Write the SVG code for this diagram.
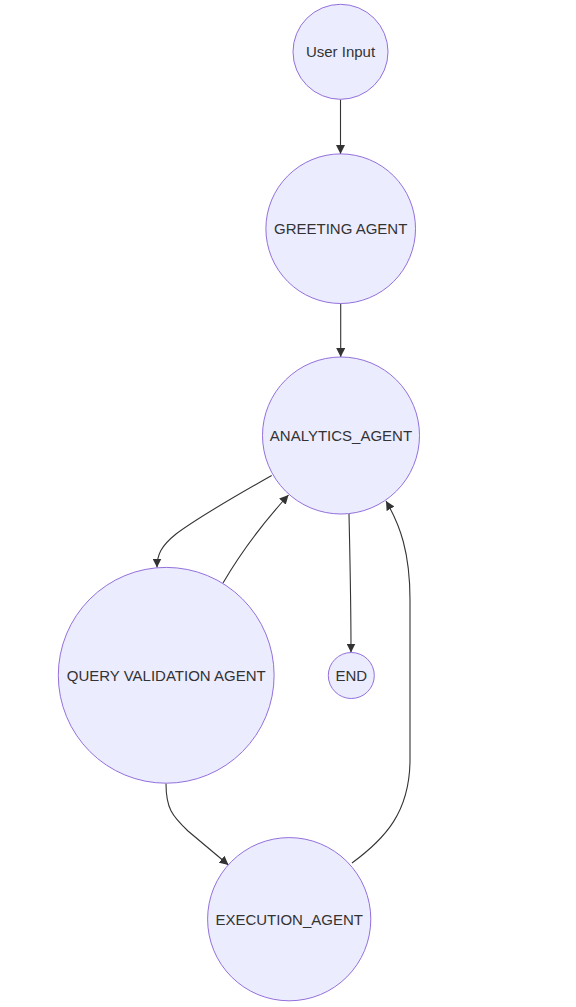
<svg xmlns="http://www.w3.org/2000/svg" width="576" height="1007" viewBox="0 0 576 1007">
<style>
.node circle{fill:#ECECFF;stroke:#9370DB;stroke-width:1}
.node text{font-family:"Liberation Sans",Arial,sans-serif;font-size:15px;fill:#333;text-anchor:middle;dominant-baseline:central}
.edge{fill:none;stroke:#333;stroke-width:1.1}
</style>
<defs>
<marker id="arr" viewBox="0 0 10 10" refX="10" refY="5" markerUnits="userSpaceOnUse" markerWidth="9" markerHeight="9" orient="auto">
<path d="M0,0 L10,5 L0,10 z" fill="#333"/>
</marker>
</defs>
<rect width="576" height="1007" fill="#fff"/>
<g id="edges">
<path class="edge" d="M340.5,99.5 L340.5,154" marker-end="url(#arr)"/>
<path class="edge" d="M340.7,303.5 L340.7,357" marker-end="url(#arr)"/>
<path class="edge" d="M271.7,475.5 C230,499 192,522 176,534 C161,546 157,555 157,567.5" marker-end="url(#arr)"/>
<path class="edge" d="M223,583 C240,554 262,524 288.5,495" marker-end="url(#arr)"/>
<path class="edge" d="M349,514 C350,560 351,600 351,652.5" marker-end="url(#arr)"/>
<path class="edge" d="M352,863 C386,838 409,812 410,762 L410,600 C410,552 400,525 386,501" marker-end="url(#arr)"/>
<path class="edge" d="M166,783.5 C166,808 172,816 188,831 L228.5,865" marker-end="url(#arr)"/>
</g>
<g id="user_input" class="node"><circle cx="340.5" cy="51.8" r="47.5"/><text x="340.5" y="51.8">User Input</text></g>
<g id="greeting_agent" class="node"><circle cx="340.7" cy="228.7" r="74.8"/><text x="340.7" y="228.7">GREETING AGENT</text></g>
<g id="analytics_agent" class="node"><circle cx="341" cy="435.5" r="78.5"/><text x="341" y="435.5">ANALYTICS_AGENT</text></g>
<g id="query_validation_agent" class="node"><circle cx="166.2" cy="675.3" r="107.9"/><text x="166.2" y="675.3">QUERY VALIDATION AGENT</text></g>
<g id="end" class="node"><circle cx="351.3" cy="675.5" r="23"/><text x="351.3" y="675.5">END</text></g>
<g id="execution_agent" class="node"><circle cx="289.2" cy="919.2" r="81.6"/><text x="289.2" y="919.2">EXECUTION_AGENT</text></g>
</svg>
